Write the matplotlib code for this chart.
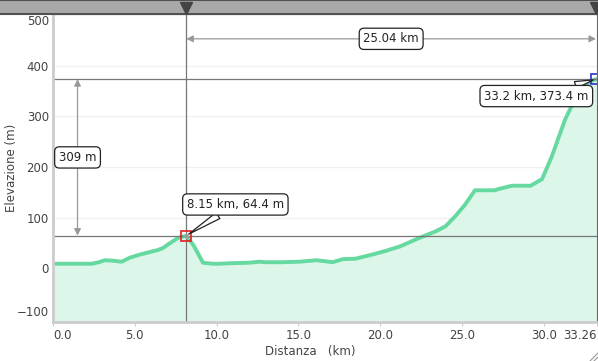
import matplotlib
matplotlib.use('Agg')
import matplotlib.pyplot as plt
import matplotlib.transforms as mtransforms
from matplotlib.patches import Rectangle
from matplotlib.lines import Line2D

# profilo altimetrico (km, m)
dist = [0.0, 1.0, 2.36, 2.8, 3.17, 3.68, 4.19, 4.7, 5.3, 5.9, 6.4, 6.72, 7.03, 7.64, 8.15,
        8.6, 9.17, 9.78, 10.2, 10.8, 12.0, 12.6, 13.0, 14.0, 15.06, 16.1, 16.6, 17.1, 17.7,
        18.5, 19.5, 20.3, 21.2, 22.4, 23.4, 24.0, 24.6, 25.2, 25.8, 27.0, 27.3, 28.07, 29.2,
        29.9, 30.5, 31.3, 31.7, 32.1, 32.5, 33.0, 33.2, 33.26]
elev = [9, 9, 9, 12, 16, 15, 13, 21, 27, 32, 36, 40, 47, 60, 64.4,
        45, 11, 9, 9, 10, 11, 13, 12, 12, 13, 16, 14, 12, 18,
        19, 27, 34, 43, 60, 73, 83, 103, 126, 154, 154, 157, 163, 163,
        176, 221, 293, 320, 339, 362, 371, 373.4, 373.4]

x_ticks = [0.0, 5.0, 10.0, 15.0, 20.0, 25.0, 30.0, 33.26]
x_labels = ['0.0', '5.0', '10.0', '15.0', '20.0', '25.0', '30.0', '33.26']
y_ticks = [-100, 0, 100, 200, 300, 400, 500]

p1 = (8.15, 64.4)
p2 = (33.2, 373.4)
dx_label = '25.04 km'
dy_label = '309 m'

line_col = '#66d9a0'
fill_col = '#dcf6e9'
txt_col = '#444444'

fig = plt.figure(figsize=(5.98, 3.61), dpi=100)
ax = fig.add_axes([53 / 598, 39 / 361, 544 / 598, 308 / 361])
ax.set_xlim(0, 33.26)
ax.set_ylim(-106, 502)

ax.fill_between(dist, elev, -106, color=fill_col, lw=0)
ax.plot(dist, elev, color=line_col, lw=2.8, solid_joinstyle='round', solid_capstyle='round')

# griglia
for y in y_ticks:
    ax.axhline(y, color='#f0f0f0', lw=1, zorder=0)

# linee di riferimento
ax.axvline(p1[0], color='#777777', lw=0.9)
ax.axhline(p1[1], color='#777777', lw=0.9)
ax.axhline(p2[1], color='#777777', lw=0.9)

# marker
ax.plot(*p1, marker='s', ms=7, mfc='none', mec='#e02020', mew=1.2)
ax.plot(*p1, marker='+', ms=5, color='#999999', mew=0.8)
ax.plot(*p2, marker='s', ms=7, mfc='none', mec='#3030d0', mew=1.2)

box = dict(boxstyle='round,pad=0.35,rounding_size=0.4', fc='white', ec='#222222', lw=0.9)

# quote
ax.annotate('', xy=(1.5, p2[1]), xytext=(1.5, p1[1]),
            arrowprops=dict(arrowstyle='<|-|>', color='#999999', lw=0.9,
                            mutation_scale=10, shrinkA=0, shrinkB=0))
ax.text(1.5, (p1[1] + p2[1]) / 2, dy_label, ha='center', va='center', fontsize=8.5,
        color='#222222', bbox=box)
ax.annotate('', xy=(p2[0], 453), xytext=(p1[0], 453),
            arrowprops=dict(arrowstyle='<|-|>', color='#999999', lw=0.9,
                            mutation_scale=10, shrinkA=0, shrinkB=0))
ax.text((p1[0] + p2[0]) / 2, 453, dx_label, ha='center', va='center', fontsize=8.5,
        color='#222222', bbox=box)

# etichette punti
ax.annotate(f'{p1[0]} km, {p1[1]} m', xy=p1, xytext=(11.15, 126), ha='center', va='center',
            fontsize=8.5, color='#222222', bbox=box,
            arrowprops=dict(arrowstyle='wedge,tail_width=0.6', fc='white', ec='#222222', lw=0.9,
                            shrinkA=0, shrinkB=2))
ax.annotate(f'{p2[0]} km, {p2[1]} m', xy=p2, xytext=(29.55, 340), ha='center', va='center',
            fontsize=8.5, color='#222222', bbox=box,
            arrowprops=dict(arrowstyle='wedge,tail_width=0.6', fc='white', ec='#222222', lw=0.9,
                            shrinkA=0, shrinkB=2))

# assi
ax.set_xticks(x_ticks)
ax.set_xticklabels(x_labels)
ax.set_yticks(y_ticks)
ax.tick_params(axis='x', length=3, color='#cccccc', labelsize=8.5, labelcolor=txt_col, pad=2)
ax.tick_params(axis='y', length=0, labelsize=8.5, labelcolor=txt_col, pad=3)
xl = ax.get_xticklabels()
xl[0].set_ha('left')
xl[-1].set_ha('right')
yl = ax.get_yticklabels()
yl[0].set_va('bottom')
yl[-1].set_va('top')
for s in ['left', 'bottom']:
    ax.spines[s].set_color('#cccccc')
    ax.spines[s].set_linewidth(2)
ax.spines['right'].set_color('#666666')
ax.spines['top'].set_visible(False)

fig.text(12 / 598, 1 - 168 / 361, 'Elevazione (m)', rotation=90, ha='center', va='center',
         fontsize=8.5, color=txt_col)
fig.text(310 / 598, 1 - 352 / 361, 'Distanza   (km)', ha='center', va='center',
         fontsize=8.5, color=txt_col)

# barra superiore
fig.patches.append(Rectangle((0, 347 / 361), 1, 14 / 361, transform=fig.transFigure,
                             fc='#a8a8a8', ec='none', zorder=5))
fig.add_artist(Line2D([0, 1], [347 / 361, 347 / 361], transform=fig.transFigure,
                      color='#505050', lw=1.5, zorder=6))
fig.add_artist(Line2D([0, 1], [1, 1], transform=fig.transFigure, color='#505050', lw=1.5, zorder=6))
bt = mtransforms.blended_transform_factory(ax.transData, fig.transFigure)
fig.add_artist(Line2D([p1[0]], [353 / 361], transform=bt, marker='v', ms=9,
                      color='#444444', ls='none', zorder=7, clip_on=False))
fig.add_artist(Line2D([p2[0]], [353 / 361], transform=bt, marker='v', ms=9,
                      color='#444444', ls='none', zorder=7, clip_on=False))

# maniglia ridimensionamento
for d in [4, 8]:
    fig.add_artist(Line2D([1 - d / 598, 1], [0, d / 361], transform=fig.transFigure,
                          color='#999999', lw=0.8))

fig.savefig('out.png', dpi=100)
